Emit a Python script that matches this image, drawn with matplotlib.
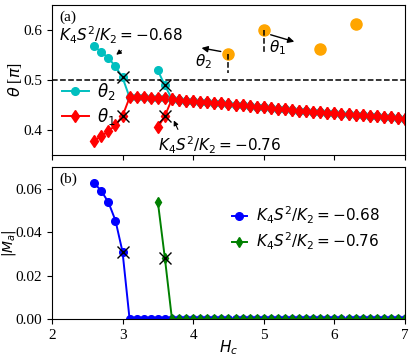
import matplotlib
matplotlib.use("Agg")
import matplotlib.pyplot as plt

plt.rcParams["font.family"] = ["Liberation Serif", "DejaVu Serif"]
plt.rcParams["mathtext.fontset"] = "dejavusans"
plt.rcParams["font.size"] = 11

# shared tail where theta1 and theta2 coincide, Hc = 3.1 ... 7.0
tail_x = [3.1, 3.2, 3.3, 3.4, 3.5, 3.6, 3.7, 3.8, 3.9, 4.0,
          4.1, 4.2, 4.3, 4.4, 4.5, 4.6, 4.7, 4.8, 4.9, 5.0,
          5.1, 5.2, 5.3, 5.4, 5.5, 5.6, 5.7, 5.8, 5.9, 6.0,
          6.1, 6.2, 6.3, 6.4, 6.5, 6.6, 6.7, 6.8, 6.9, 7.0]
tail_theta = [0.465, 0.465, 0.465, 0.464, 0.464, 0.463, 0.462, 0.460, 0.458, 0.457,
              0.456, 0.455, 0.454, 0.453, 0.451, 0.450, 0.449, 0.447, 0.446, 0.445,
              0.443, 0.442, 0.441, 0.440, 0.438, 0.437, 0.436, 0.435, 0.434, 0.433,
              0.432, 0.431, 0.430, 0.429, 0.428, 0.427, 0.426, 0.425, 0.423, 0.422]

# K4 S^2 / K2 = -0.68
hc_068 = [2.6, 2.7, 2.8, 2.9, 3.0] + tail_x
theta2_068 = [0.567, 0.556, 0.544, 0.527, 0.505] + tail_theta
theta1_068 = [0.378, 0.388, 0.397, 0.410, 0.428] + tail_theta
ma_068 = [0.0626, 0.0590, 0.0538, 0.0454, 0.0310] + [0.0] * len(tail_x)

# K4 S^2 / K2 = -0.76
hc_076 = [3.5, 3.6] + tail_x[6:]
theta2_076 = [0.519, 0.489] + tail_theta[6:]
theta1_076 = [0.405, 0.428] + tail_theta[6:]
ma_076 = [0.054, 0.028] + [0.0] * len(tail_x[6:])

# transition points marked with crosses
cross_hc = [3.0, 3.0, 3.6, 3.6]
cross_theta = [0.505, 0.428, 0.489, 0.428]
cross_ma_hc = [3.0, 3.6]
cross_ma = [0.031, 0.028]

# spin sketch in panel (a)
spin_x = [4.5, 5.0, 5.8, 6.3]
spin_y = [0.551, 0.600, 0.561, 0.611]

fig = plt.figure(figsize=(4.12, 3.57), dpi=100)
ax1 = fig.add_axes([0.126, 0.566, 0.857, 0.420])
ax2 = fig.add_axes([0.126, 0.106, 0.857, 0.426])

# ---- panel (a) ----
ax1.axhline(0.5, color="k", ls="--", lw=1.1)
ax1.plot(hc_068, theta2_068, "-o", color="c", ms=5.5, lw=1.4, label=r"$\theta_2$")
ax1.plot(hc_068, theta1_068, "-d", color="r", ms=6, lw=1.4, label=r"$\theta_1$")
ax1.plot(hc_076, theta2_076, "-o", color="c", ms=5.5, lw=1.4)
ax1.plot(hc_076, theta1_076, "-d", color="r", ms=6, lw=1.4)
ax1.plot(cross_hc, cross_theta, "x", color="k", ms=8, mew=1.0, ls="none")

ax1.plot(spin_x, spin_y, "o", color="orange", ms=8, ls="none")
ax1.plot([4.5, 4.5], [0.551, 0.514], "k--", lw=1.1)
ax1.plot([5.0, 5.0], [0.600, 0.553], "k--", lw=1.1)
ax1.annotate("", xy=(4.08, 0.565), xytext=(4.43, 0.556),
             arrowprops=dict(arrowstyle="-|>", color="k", lw=1.0, mutation_scale=9))
ax1.annotate("", xy=(5.47, 0.575), xytext=(5.06, 0.592),
             arrowprops=dict(arrowstyle="-|>", color="k", lw=1.0, mutation_scale=9))
ax1.text(4.15, 0.537, r"$\theta_2$", ha="center", va="center", fontsize=11)
ax1.text(5.19, 0.564, r"$\theta_1$", ha="center", va="center", fontsize=11)

ax1.annotate(r"$K_4S^2/K_2=-0.68$", xy=(2.88, 0.547), xytext=(2.10, 0.589),
             va="center", ha="left", fontsize=11,
             arrowprops=dict(arrowstyle="-|>", color="k", lw=0.8, mutation_scale=7,
                             relpos=(0.55, 0.0)))
ax1.annotate(r"$K_4S^2/K_2=-0.76$", xy=(3.71, 0.424), xytext=(3.505, 0.369),
             va="center", ha="left", fontsize=11,
             arrowprops=dict(arrowstyle="-|>", color="k", lw=0.8, mutation_scale=7,
                             relpos=(0.18, 1.0)))

ax1.text(0.02, 0.965, "(a)", transform=ax1.transAxes, va="top", ha="left", fontsize=11)
ax1.set_xlim(2, 7)
ax1.set_ylim(0.35, 0.65)
ax1.set_yticks([0.4, 0.5, 0.6])
ax1.set_xticks([2, 3, 4, 5, 6, 7])
ax1.set_xticklabels([])
ax1.set_ylabel(r"$\theta$ [$\pi$]", fontsize=11.5)
ax1.yaxis.set_label_coords(-0.078, 0.5)
ax1.legend(loc="center left", bbox_to_anchor=(0.0, 0.34), frameon=False,
           fontsize=12, handlelength=1.6, handletextpad=0.5, labelspacing=0.2,
           borderaxespad=0.2)

# ---- panel (b) ----
ax2.plot(hc_068, ma_068, "-o", color="b", ms=5.5, lw=1.4, label=r"$K_4S^2/K_2=-0.68$")
ax2.plot(hc_076, ma_076, "-d", color="g", ms=5, lw=1.4, label=r"$K_4S^2/K_2=-0.76$")
ax2.plot(cross_ma_hc, cross_ma, "x", color="k", ms=8, mew=1.0, ls="none")
ax2.text(0.02, 0.965, "(b)", transform=ax2.transAxes, va="top", ha="left", fontsize=11)
ax2.set_xlim(2, 7)
ax2.set_ylim(0, 0.07)
ax2.set_yticks([0.0, 0.02, 0.04, 0.06])
ax2.set_yticklabels(["0.00", "0.02", "0.04", "0.06"])
ax2.set_xticks([2, 3, 4, 5, 6, 7])
ax2.set_xlabel(r"$H_c$", fontsize=11)
ax2.xaxis.set_label_coords(0.5, -0.125)
ax2.set_ylabel(r"$|M_a|$", fontsize=10)
ax2.yaxis.set_label_coords(-0.095, 0.5)
ax2.legend(loc="center left", bbox_to_anchor=(0.47, 0.6), frameon=False,
           fontsize=11, handlelength=1.0, handletextpad=0.6, labelspacing=0.3)

fig.savefig("out.png", dpi=100)
